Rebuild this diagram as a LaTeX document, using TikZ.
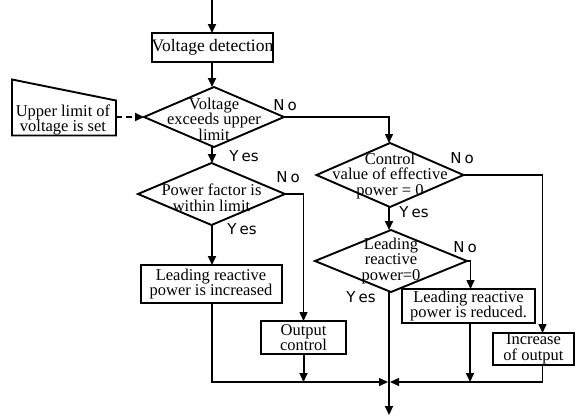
\documentclass[tikz,border=0pt]{standalone}
\usepackage{fontspec}
\setmainfont{Liberation Serif}
\newfontfamily\labfont{DejaVu Sans}
\usetikzlibrary{arrows.meta,shapes.geometric,calc}
\begin{document}
\begin{tikzpicture}[x=1pt,y=-1pt,
  every node/.style={font=\fontsize{16.5}{15.5}\selectfont},
  box/.style={draw,line width=2pt,rectangle,inner sep=0pt,outer sep=0pt,align=center},
  dia/.style={draw,line width=1.9pt,diamond,inner sep=0pt,outer sep=0pt},
  dtext/.style={align=center,inner sep=0pt,font=\fontsize{16.5}{15.5}\selectfont},
  lab/.style={inner sep=0pt,font=\labfont\fontsize{15}{15}\selectfont},
  arr/.style={line width=2pt,-{Triangle[length=9pt,width=8pt]}},
  tarr/.style={line width=1.4pt,-{Triangle[length=9pt,width=8pt]}}]
\useasboundingbox (0,0) rectangle (575,415);

% boxes
\node[box,minimum width=121pt,minimum height=29pt,font=\fontsize{17.5}{16}\selectfont] (vd) at (212.5,47.5) {Voltage detection};
\node[inner sep=0pt,outer sep=0pt,minimum width=104pt,minimum height=56pt] (ul) at (64,107.5) {};
\draw[line width=1.9pt] (ul.north west) -- ($(ul.north east)+(0,21)$) -- (ul.south east) -- (ul.south west) -- cycle;
\node[dtext] (ultext) at (63,120) {Upper limit of\\voltage is set};

\node[dia,minimum width=140pt,minimum height=60pt] (d1) at (214,117) {};
\node[dtext] (d1t) at (214,119) {Voltage\\exceeds upper\\limit};

\node[dia,minimum width=147pt,minimum height=62pt] (d4) at (211.5,194) {};
\node[dtext] (d4t) at (211.5,198) {Power factor is\\within limit};

\node[dia,minimum width=147pt,minimum height=64pt] (d2) at (390,175) {};
\node[dtext] (d2t) at (390,176) {Control\\value of effective\\power = 0};

\node[dia,minimum width=152pt,minimum height=62pt] (d3) at (391,261) {};
\node[dtext] (d3t) at (391,261) {Leading\\reactive\\power=0};

\node[box,minimum width=141pt,minimum height=38pt] (lri) at (211,284) {Leading reactive\\power is increased};
\node[box,minimum width=85pt,minimum height=33pt] (oc) at (303.5,337.5) {Output\\control};
\node[box,minimum width=133pt,minimum height=34pt] (lrr) at (468.5,306) {Leading reactive\\power is reduced.};
\node[box,minimum width=81pt,minimum height=32pt] (io) at (533.5,349) {Increase\\of output};

% labels
\node[lab] (no1) at (285,105) {N\kern3pt o};
\node[lab] (yes1) at (244,156) {Y\kern3pt es};
\node[lab] (no4) at (288,177) {N\kern3pt o};
\node[lab] (yes4) at (242,229) {Y\kern3pt es};
\node[lab] (no2) at (462,158) {N\kern3pt o};
\node[lab] (yes2) at (414,212) {Y\kern3pt es};
\node[lab] (no3) at (465,247) {N\kern3pt o};
\node[lab] (yes3) at (361,297) {Y\kern3pt es};

% connectors
\coordinate (start) at (212,0);
\coordinate (join) at (389,382);
\coordinate (finish) at (389,415);
\draw[arr] (start) -- (vd.north -| start);
\draw[arr] (vd.south -| start) -- (d1.north -| start);
\draw[line width=1.9pt,dash pattern=on 6pt off 4pt,-{Triangle[length=9pt,width=8pt]}] (d1.west -| ul.east) -- (d1.west);
\draw[tarr] (d1.east) -| (d2.north -| join);
\draw[arr] (d1.south -| start) -- (d4.north -| start);
\draw[tarr] (d4.east) -| (oc.north);
\draw[arr] (d4.south -| start) -- (lri.north -| start);
\draw[arr] (d2.south -| join) -- (d3.north -| join);
\draw[tarr] (d2.east) -| ([xshift=9pt]io.north);
\draw[tarr] (d3.east) -| ([xshift=2pt]lrr.north);
\draw[line width=2pt] (d3.south -| join) -- (join);
\draw[arr] (join) -- (finish);
\draw[tarr,shorten >=1pt] (lri.south -| start) |- (join);
\draw[arr] (oc.south) -- (oc.south |- join);
\draw[arr] ([xshift=1.5pt]lrr.south) -- ([xshift=1.5pt]lrr.south |- join);
\draw[tarr,shorten >=1pt] ([xshift=9pt]io.south) |- (join);
\end{tikzpicture}
\end{document}
